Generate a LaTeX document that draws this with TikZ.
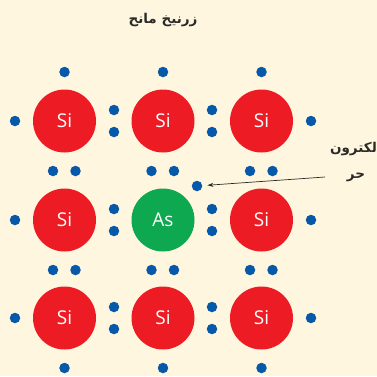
\documentclass[tikz,border=0pt]{standalone}
\usepackage{fontspec}
\setmainfont{Open Sans}
\newfontfamily\arabicfont[Script=Arabic]{DejaVu Sans}
\TeXXeTstate=1
\usetikzlibrary{arrows.meta}
\definecolor{bgc}{HTML}{FFF6DF}
\definecolor{redc}{HTML}{ED1C24}
\definecolor{greenc}{HTML}{0DA84F}
\definecolor{bluec}{HTML}{0659A9}
\definecolor{inkc}{HTML}{2B2A29}
\tikzset{
  atom/.style={circle,inner sep=0pt,minimum size=63pt,text=white,font=\fontsize{19}{19}\selectfont},
  siatom/.style={atom,fill=redc},
  asatom/.style={atom,fill=greenc},
  electron/.style={circle,fill=bluec,inner sep=0pt,minimum size=10.5pt},
  arlabel/.style={text=inkc,inner sep=0pt,font=\arabicfont\bfseries\fontsize{13.5}{13.5}\selectfont},
  pointer/.style={draw=inkc,line width=0.7pt,-{Stealth[length=6pt,width=4pt]}}
}
\begin{document}
\begin{tikzpicture}[x=1pt,y=-1pt]
\useasboundingbox[fill=bgc] (0,0) rectangle (377,376);
% atoms
\foreach \c/\x in {a/64.5,b/163,c/261.5}
  \foreach \r/\y in {1/121,2/220,3/318}{
    \ifnum\pdfstrcmp{\c\r}{b2}=0
      \node[asatom] (\c\r) at (\x,\y) {As};
    \else
      \node[siatom] (\c\r) at (\x,\y) {Si};
    \fi
  }
% outer electrons: top, bottom
\foreach \c/\x in {a/64.5,b/163,c/261.5}{
  \node[electron] (top\c) at (\x,72) {};
  \node[electron] (bot\c) at (\x,368) {};
}
% outer electrons: left, right
\foreach \r/\y in {1/121,2/220,3/318}{
  \node[electron] (left\r) at (15,\y) {};
  \node[electron] (right\r) at (311,\y) {};
}
% horizontal pairs between rows
\foreach \c/\x in {a/64.5,b/163,c/261.5}
  \foreach \r/\y in {1/171,2/270}{
    \node[electron] (h\c\r l) at (\x-11.5,\y) {};
    \node[electron] (h\c\r r) at (\x+11,\y) {};
  }
% vertical pairs between columns
\foreach \k/\x in {1/114,2/212}
  \foreach \r/\y in {1/121,2/220,3/318}{
    \node[electron] (v\k\r t) at (\x,\y-11) {};
    \node[electron] (v\k\r b) at (\x,\y+11) {};
  }
% free electron
\node[electron] (free) at (197,186) {};
% labels
\node[arlabel] (title) at (163,20) {\beginR زرنيخ مانح\endR};
\node[arlabel,anchor=east] (lab1) at (377,149) {\beginR لكترون\endR};
\node[arlabel] (lab2) at (356,177) {\beginR حر\endR};
\coordinate (armstart) at (325,177);
\draw[pointer,shorten >=5pt] (armstart) -- (free);
\end{tikzpicture}
\end{document}
